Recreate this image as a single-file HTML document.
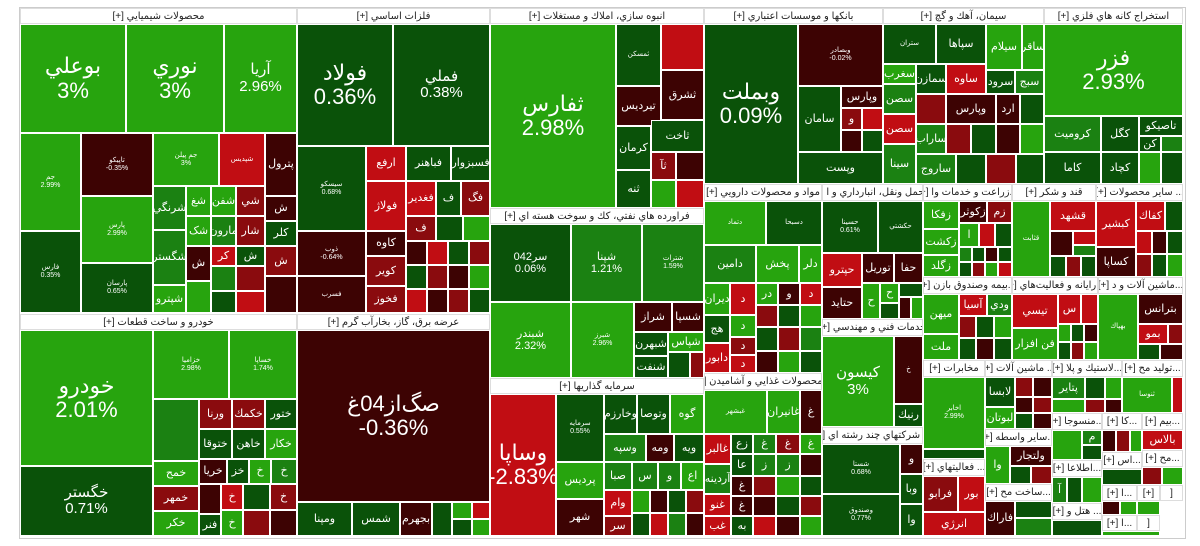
<!DOCTYPE html>
<html><head><meta charset="utf-8"><style>
body{margin:0;width:1200px;height:546px;background:#fff;position:relative;overflow:hidden;font-family:"Liberation Sans","DejaVu Sans",sans-serif}
i,b{position:absolute;box-sizing:border-box;border:1px solid #fff;display:flex;align-items:center;justify-content:center;text-align:center;color:#fff;font-style:normal;font-weight:normal;font-size:11px;line-height:1.1;overflow:hidden;direction:ltr}
b{background:#fff;color:#222;font-size:10px;border:1px solid #ddd;font-weight:normal;white-space:nowrap;direction:rtl}
.a{background:#27a40e}.b{background:#1b8112}.c{background:#0a5209}.r{background:#c10d13}.s{background:#8a0b0e}.t{background:#3d0303}
.L{font-size:22px}.M{font-size:15px}.S{font-size:7px}
</style></head><body>
<div style="position:absolute;left:19px;top:7px;width:1165px;height:530px;border:1px solid #ccc"></div>
<!-- chemicals -->
<b style="left:20px;top:8px;width:277px;height:16px">محصولات شيميايي [+]</b>
<i class="a L" style="left:20px;top:24px;width:106px;height:109px">بوعلي<br>3%</i>
<i class="a L" style="left:126px;top:24px;width:98px;height:109px">نوري<br>3%</i>
<i class="a M" style="left:224px;top:24px;width:73px;height:109px">آريا<br>2.96%</i>
<i class="a S" style="left:20px;top:133px;width:61px;height:98px">جم<br>2.99%</i>
<i class="c S" style="left:20px;top:231px;width:61px;height:82px">فارس<br>0.35%</i>
<i class="t S" style="left:81px;top:133px;width:72px;height:63px">تاپيكو<br>-0.35%</i>
<i class="a S" style="left:81px;top:196px;width:72px;height:67px">پارس<br>2.99%</i>
<i class="c S" style="left:81px;top:263px;width:72px;height:50px">پارسان<br>0.65%</i>
<i class="a S" style="left:153px;top:133px;width:66px;height:53px">جم پيلن<br>3%</i>
<i class="r S" style="left:219px;top:133px;width:46px;height:53px">شپديس</i>
<i class="t" style="left:265px;top:133px;width:32px;height:63px">پترول</i>
<i class="b" style="left:153px;top:186px;width:33px;height:44px">شرنگي</i>
<i class="b" style="left:153px;top:230px;width:33px;height:55px">شگستر</i>
<i class="a" style="left:153px;top:285px;width:33px;height:28px">شپترو</i>
<i class="a" style="left:186px;top:186px;width:25px;height:30px">شغ</i>
<i class="a" style="left:211px;top:186px;width:25px;height:30px">شفن</i>
<i class="s" style="left:236px;top:186px;width:29px;height:30px">شي</i>
<i class="t" style="left:265px;top:196px;width:32px;height:25px">ش</i>
<i class="a" style="left:186px;top:216px;width:25px;height:30px">شک</i>
<i class="b" style="left:211px;top:216px;width:25px;height:30px">مارون</i>
<i class="s" style="left:236px;top:216px;width:29px;height:30px">شار</i>
<i class="c" style="left:265px;top:221px;width:32px;height:25px">كلر</i>
<i class="t" style="left:186px;top:246px;width:25px;height:35px">ش</i>
<i class="r" style="left:211px;top:246px;width:25px;height:20px">كر</i>
<i class="c" style="left:236px;top:246px;width:29px;height:20px">ش</i>
<i class="s" style="left:265px;top:246px;width:32px;height:30px">ش</i>
<i class="b" style="left:211px;top:266px;width:25px;height:25px"></i>
<i class="s" style="left:236px;top:266px;width:29px;height:25px"></i>
<i class="a" style="left:186px;top:281px;width:25px;height:32px"></i>
<i class="c" style="left:211px;top:291px;width:25px;height:22px"></i>
<i class="r" style="left:236px;top:291px;width:29px;height:22px"></i>
<i class="t" style="left:265px;top:276px;width:32px;height:37px"></i>
<!-- auto -->
<b style="left:20px;top:314px;width:277px;height:16px">خودرو و ساخت قطعات [+]</b>
<i class="a L" style="left:20px;top:330px;width:133px;height:136px">خودرو<br>2.01%</i>
<i class="c M" style="left:20px;top:466px;width:133px;height:70px">خگستر<br>0.71%</i>
<i class="a S" style="left:153px;top:330px;width:76px;height:69px">خزاميا<br>2.98%</i>
<i class="a S" style="left:229px;top:330px;width:68px;height:69px">خساپا<br>1.74%</i>
<i class="b" style="left:153px;top:399px;width:46px;height:62px"></i>
<i class="s" style="left:199px;top:399px;width:33px;height:30px">ورنا</i>
<i class="s" style="left:232px;top:399px;width:33px;height:30px">خكمك</i>
<i class="c" style="left:265px;top:399px;width:32px;height:30px">ختور</i>
<i class="c" style="left:199px;top:429px;width:33px;height:30px">ختوقا</i>
<i class="c" style="left:232px;top:429px;width:33px;height:30px">خاهن</i>
<i class="a" style="left:265px;top:429px;width:32px;height:30px">خكار</i>
<i class="a" style="left:153px;top:461px;width:46px;height:25px">خمح</i>
<i class="t" style="left:199px;top:459px;width:28px;height:25px">خريا</i>
<i class="c" style="left:227px;top:459px;width:22px;height:25px">خز</i>
<i class="a" style="left:249px;top:459px;width:22px;height:25px">خ</i>
<i class="b" style="left:271px;top:459px;width:26px;height:25px">خ</i>
<i class="s" style="left:153px;top:486px;width:46px;height:25px">خمهر</i>
<i class="a" style="left:153px;top:511px;width:46px;height:25px">خكر</i>
<i class="t" style="left:199px;top:484px;width:22px;height:30px"></i>
<i class="r" style="left:221px;top:484px;width:22px;height:26px">خ</i>
<i class="c" style="left:243px;top:484px;width:27px;height:26px"></i>
<i class="s" style="left:270px;top:484px;width:27px;height:26px">خ</i>
<i class="c" style="left:199px;top:514px;width:22px;height:22px">فنر</i>
<i class="a" style="left:221px;top:510px;width:22px;height:26px">خ</i>
<i class="s" style="left:243px;top:510px;width:27px;height:26px"></i>
<i class="t" style="left:270px;top:510px;width:27px;height:26px"></i>
<!-- metals -->
<b style="left:297px;top:8px;width:193px;height:16px">فلزات اساسي [+]</b>
<i class="c L" style="left:297px;top:24px;width:96px;height:122px">فولاد<br>0.36%</i>
<i class="c M" style="left:393px;top:24px;width:97px;height:122px">فملي<br>0.38%</i>
<i class="c S" style="left:297px;top:146px;width:69px;height:85px">سيسكو<br>0.68%</i>
<i class="t S" style="left:297px;top:231px;width:69px;height:45px">ذوب<br>-0.64%</i>
<i class="t S" style="left:297px;top:276px;width:69px;height:37px">فسرب</i>
<i class="r" style="left:366px;top:146px;width:40px;height:35px">ارفع</i>
<i class="c" style="left:406px;top:146px;width:45px;height:35px">فباهنر</i>
<i class="c" style="left:451px;top:146px;width:39px;height:35px">فسبزوار</i>
<i class="r" style="left:366px;top:181px;width:40px;height:50px">فولاژ</i>
<i class="r" style="left:406px;top:181px;width:30px;height:35px">فغدير</i>
<i class="c" style="left:436px;top:181px;width:25px;height:35px">ف</i>
<i class="s" style="left:461px;top:181px;width:29px;height:35px">فگ</i>
<i class="t" style="left:366px;top:231px;width:40px;height:25px">كاوه</i>
<i class="s" style="left:366px;top:256px;width:40px;height:30px">كوير</i>
<i class="s" style="left:366px;top:286px;width:40px;height:27px">فخوز</i>
<i class="s" style="left:406px;top:216px;width:30px;height:25px">ف</i>
<i class="c" style="left:436px;top:216px;width:27px;height:25px"></i>
<i class="a" style="left:463px;top:216px;width:27px;height:25px"></i>
<i class="t" style="left:406px;top:241px;width:21px;height:24px"></i>
<i class="r" style="left:427px;top:241px;width:21px;height:24px"></i>
<i class="c" style="left:448px;top:241px;width:21px;height:24px"></i>
<i class="s" style="left:469px;top:241px;width:21px;height:24px"></i>
<i class="c" style="left:406px;top:265px;width:21px;height:24px"></i>
<i class="s" style="left:427px;top:265px;width:21px;height:24px"></i>
<i class="t" style="left:448px;top:265px;width:21px;height:24px"></i>
<i class="a" style="left:469px;top:265px;width:21px;height:24px"></i>
<i class="r" style="left:406px;top:289px;width:21px;height:24px"></i>
<i class="t" style="left:427px;top:289px;width:21px;height:24px"></i>
<i class="s" style="left:448px;top:289px;width:21px;height:24px"></i>
<i class="c" style="left:469px;top:289px;width:21px;height:24px"></i>
<!-- electricity -->
<b style="left:297px;top:314px;width:193px;height:16px">عرضه برق، گاز، بخارآب گرم [+]</b>
<i class="t L" style="left:297px;top:330px;width:193px;height:172px">صگﺍﺯ04غ<br>-0.36%</i>
<i class="c" style="left:297px;top:502px;width:55px;height:34px">ومپنا</i>
<i class="c" style="left:352px;top:502px;width:48px;height:34px">شمس</i>
<i class="t" style="left:400px;top:502px;width:32px;height:34px">بجهرم</i>
<i class="c" style="left:432px;top:502px;width:20px;height:34px"></i>
<i class="a" style="left:452px;top:502px;width:20px;height:17px"></i>
<i class="r" style="left:472px;top:502px;width:18px;height:17px"></i>
<i class="c" style="left:452px;top:519px;width:20px;height:17px"></i>
<i class="a" style="left:472px;top:519px;width:18px;height:17px"></i>
<!-- building -->
<b style="left:490px;top:8px;width:214px;height:16px">انبوه سازي، املاك و مستغلات [+]</b>
<i class="a L" style="left:490px;top:24px;width:126px;height:184px">ثفارس<br>2.98%</i>
<i class="c S" style="left:616px;top:24px;width:45px;height:62px">ثمسكن</i>
<i class="r" style="left:661px;top:24px;width:43px;height:46px"></i>
<i class="t" style="left:661px;top:70px;width:43px;height:50px">ثشرق</i>
<i class="t" style="left:616px;top:86px;width:45px;height:40px">تيرديس</i>
<i class="c" style="left:616px;top:126px;width:35px;height:44px">كرمان</i>
<i class="c" style="left:651px;top:120px;width:53px;height:32px">ثاخت</i>
<i class="s" style="left:651px;top:152px;width:25px;height:28px">ثآ</i>
<i class="t" style="left:676px;top:152px;width:28px;height:28px"></i>
<i class="c" style="left:616px;top:170px;width:35px;height:38px">ثنه</i>
<i class="a" style="left:651px;top:180px;width:25px;height:28px"></i>
<i class="r" style="left:676px;top:180px;width:28px;height:28px"></i>
<!-- oil -->
<b style="left:490px;top:208px;width:214px;height:16px">فراورده هاي نفتي، كك و سوخت هسته اي [+]</b>
<i class="c" style="left:490px;top:224px;width:81px;height:78px">042سر<br>0.06%</i>
<i class="b" style="left:571px;top:224px;width:71px;height:78px">شپنا<br>1.21%</i>
<i class="b S" style="left:642px;top:224px;width:62px;height:78px">شترات<br>1.59%</i>
<i class="a" style="left:490px;top:302px;width:81px;height:76px">شبندر<br>2.32%</i>
<i class="a S" style="left:571px;top:302px;width:63px;height:76px">شبرز<br>2.96%</i>
<i class="t" style="left:634px;top:302px;width:38px;height:30px">شراز</i>
<i class="t" style="left:672px;top:302px;width:32px;height:30px">شسپا</i>
<i class="c" style="left:634px;top:332px;width:34px;height:24px">شبهرن</i>
<i class="a" style="left:668px;top:332px;width:36px;height:20px">شپاس</i>
<i class="c" style="left:634px;top:356px;width:34px;height:22px">شنفت</i>
<i class="c" style="left:668px;top:352px;width:22px;height:26px"></i>
<i class="s" style="left:690px;top:352px;width:14px;height:26px"></i>
<!-- investments -->
<b style="left:490px;top:378px;width:214px;height:16px">سرمايه گذاريها [+]</b>
<i class="r L" style="left:490px;top:394px;width:66px;height:142px">وساپا<br>-2.83%</i>
<i class="c S" style="left:556px;top:394px;width:48px;height:68px">سرمایه<br>0.55%</i>
<i class="c" style="left:604px;top:394px;width:33px;height:40px">وخارزم</i>
<i class="c" style="left:637px;top:394px;width:33px;height:40px">وتوصا</i>
<i class="a" style="left:670px;top:394px;width:34px;height:40px">گوه</i>
<i class="b" style="left:604px;top:434px;width:42px;height:28px">وسپه</i>
<i class="t" style="left:646px;top:434px;width:28px;height:28px">ومه</i>
<i class="c" style="left:674px;top:434px;width:30px;height:28px">ويه</i>
<i class="a" style="left:556px;top:462px;width:48px;height:37px">پرديس</i>
<i class="b" style="left:604px;top:462px;width:28px;height:28px">صبا</i>
<i class="b" style="left:632px;top:462px;width:26px;height:28px">س</i>
<i class="b" style="left:658px;top:462px;width:23px;height:28px">و</i>
<i class="a" style="left:681px;top:462px;width:23px;height:28px">اع</i>
<i class="t" style="left:556px;top:499px;width:48px;height:37px">شهر</i>
<i class="r" style="left:604px;top:490px;width:28px;height:26px">وام</i>
<i class="s" style="left:604px;top:516px;width:28px;height:20px">سر</i>
<i class="a" style="left:632px;top:490px;width:18px;height:23px"></i>
<i class="t" style="left:650px;top:490px;width:18px;height:23px"></i>
<i class="c" style="left:668px;top:490px;width:18px;height:23px"></i>
<i class="s" style="left:686px;top:490px;width:18px;height:23px"></i>
<i class="c" style="left:632px;top:513px;width:18px;height:23px"></i>
<i class="r" style="left:650px;top:513px;width:18px;height:23px"></i>
<i class="b" style="left:668px;top:513px;width:18px;height:23px"></i>
<i class="t" style="left:686px;top:513px;width:18px;height:23px"></i>
<!-- banks -->
<b style="left:704px;top:8px;width:179px;height:16px">بانكها و موسسات اعتباري [+]</b>
<i class="c L" style="left:704px;top:24px;width:94px;height:160px">وبملت<br>0.09%</i>
<i class="t S" style="left:798px;top:24px;width:85px;height:62px">وبصادر<br>-0.02%</i>
<i class="c" style="left:798px;top:86px;width:43px;height:66px">سامان</i>
<i class="t" style="left:841px;top:86px;width:42px;height:22px">وپارس</i>
<i class="s" style="left:841px;top:108px;width:21px;height:22px">و</i>
<i class="r" style="left:862px;top:108px;width:21px;height:22px"></i>
<i class="t" style="left:841px;top:130px;width:21px;height:22px"></i>
<i class="c" style="left:862px;top:130px;width:21px;height:22px"></i>
<i class="c" style="left:798px;top:152px;width:85px;height:32px">وپست</i>
<!-- cement -->
<b style="left:883px;top:8px;width:161px;height:16px">سيمان، آهك و گچ [+]</b>
<i class="c S" style="left:883px;top:24px;width:53px;height:40px">ستران</i>
<i class="c" style="left:936px;top:24px;width:50px;height:40px">سپاها</i>
<i class="a" style="left:986px;top:24px;width:36px;height:46px">سيلام</i>
<i class="a" style="left:1022px;top:24px;width:22px;height:46px">ساقر</i>
<i class="a" style="left:883px;top:64px;width:33px;height:20px">سغرب</i>
<i class="c" style="left:916px;top:64px;width:30px;height:30px">سمازن</i>
<i class="r" style="left:946px;top:64px;width:40px;height:30px">ساوه</i>
<i class="c" style="left:986px;top:70px;width:29px;height:24px">سرود</i>
<i class="b" style="left:1015px;top:70px;width:29px;height:24px">سبج</i>
<i class="b" style="left:883px;top:84px;width:33px;height:30px">سصن</i>
<i class="s" style="left:916px;top:94px;width:30px;height:30px"></i>
<i class="t" style="left:946px;top:94px;width:50px;height:30px">وپارس</i>
<i class="t" style="left:996px;top:94px;width:24px;height:30px">ارد</i>
<i class="c" style="left:1020px;top:94px;width:24px;height:30px"></i>
<i class="r" style="left:883px;top:114px;width:33px;height:30px">سصن</i>
<i class="b" style="left:916px;top:124px;width:30px;height:30px">ساراب</i>
<i class="s" style="left:946px;top:124px;width:25px;height:30px"></i>
<i class="c" style="left:971px;top:124px;width:25px;height:30px"></i>
<i class="t" style="left:996px;top:124px;width:24px;height:30px"></i>
<i class="a" style="left:1020px;top:124px;width:24px;height:30px"></i>
<i class="b" style="left:883px;top:144px;width:33px;height:40px">سينا</i>
<i class="b" style="left:916px;top:154px;width:40px;height:30px">ساروج</i>
<i class="c" style="left:956px;top:154px;width:30px;height:30px"></i>
<i class="s" style="left:986px;top:154px;width:30px;height:30px"></i>
<i class="c" style="left:1016px;top:154px;width:28px;height:30px"></i>
<!-- mining -->
<b style="left:1044px;top:8px;width:139px;height:16px">استخراج كانه هاي فلزي [+]</b>
<i class="a L" style="left:1044px;top:24px;width:139px;height:92px">فزر<br>2.93%</i>
<i class="b" style="left:1044px;top:116px;width:57px;height:36px">كروميت</i>
<i class="c" style="left:1044px;top:152px;width:57px;height:32px">كاما</i>
<i class="c" style="left:1101px;top:116px;width:38px;height:36px">كگل</i>
<i class="c" style="left:1139px;top:116px;width:44px;height:20px">تاصيكو</i>
<i class="c" style="left:1139px;top:136px;width:22px;height:16px">كن</i>
<i class="b" style="left:1161px;top:136px;width:22px;height:16px"></i>
<i class="c" style="left:1101px;top:152px;width:38px;height:32px">كچاد</i>
<i class="a" style="left:1139px;top:152px;width:22px;height:32px"></i>
<i class="c" style="left:1161px;top:152px;width:22px;height:32px"></i>
<!-- pharma -->
<b style="left:704px;top:184px;width:118px;height:17px">مواد و محصولات دارويي [+]</b>
<i class="a S" style="left:704px;top:201px;width:62px;height:44px">دتماد</i>
<i class="c S" style="left:766px;top:201px;width:56px;height:44px">دسبحا</i>
<i class="b" style="left:704px;top:245px;width:52px;height:38px">دامين</i>
<i class="a" style="left:756px;top:245px;width:43px;height:38px">پخش</i>
<i class="a" style="left:799px;top:245px;width:23px;height:38px">دلر</i>
<i class="a" style="left:704px;top:283px;width:26px;height:32px">ديران</i>
<i class="r" style="left:730px;top:283px;width:26px;height:32px">د</i>
<i class="a" style="left:756px;top:283px;width:22px;height:22px">در</i>
<i class="t" style="left:778px;top:283px;width:22px;height:22px">و</i>
<i class="r" style="left:800px;top:283px;width:22px;height:22px">د</i>
<i class="c" style="left:704px;top:315px;width:26px;height:28px">هج</i>
<i class="a" style="left:730px;top:315px;width:26px;height:22px">د</i>
<i class="r" style="left:704px;top:343px;width:26px;height:30px">دابور</i>
<i class="s" style="left:730px;top:337px;width:26px;height:18px">د</i>
<i class="r" style="left:730px;top:355px;width:26px;height:18px">د</i>
<i class="s" style="left:756px;top:305px;width:22px;height:22px"></i>
<i class="c" style="left:778px;top:305px;width:22px;height:22px"></i>
<i class="a" style="left:800px;top:305px;width:22px;height:22px"></i>
<i class="c" style="left:756px;top:327px;width:22px;height:24px"></i>
<i class="s" style="left:778px;top:327px;width:22px;height:24px"></i>
<i class="b" style="left:800px;top:327px;width:22px;height:24px"></i>
<i class="t" style="left:756px;top:351px;width:22px;height:22px"></i>
<i class="a" style="left:778px;top:351px;width:22px;height:22px"></i>
<i class="c" style="left:800px;top:351px;width:22px;height:22px"></i>
<!-- food -->
<b style="left:704px;top:373px;width:118px;height:17px">...محصولات غذايي و آشاميدن [+]</b>
<i class="a S" style="left:704px;top:390px;width:63px;height:44px">غبشهر</i>
<i class="a" style="left:767px;top:390px;width:33px;height:44px">غانيران</i>
<i class="t" style="left:800px;top:390px;width:22px;height:44px">غ</i>
<i class="r" style="left:704px;top:434px;width:27px;height:30px">غالبر</i>
<i class="c" style="left:731px;top:434px;width:22px;height:20px">زع</i>
<i class="b" style="left:753px;top:434px;width:23px;height:20px">غ</i>
<i class="s" style="left:776px;top:434px;width:24px;height:20px">غ</i>
<i class="a" style="left:800px;top:434px;width:22px;height:20px">غ</i>
<i class="b" style="left:704px;top:464px;width:27px;height:30px">آردينه</i>
<i class="c" style="left:731px;top:454px;width:22px;height:22px">عا</i>
<i class="b" style="left:753px;top:454px;width:23px;height:22px">ز</i>
<i class="b" style="left:776px;top:454px;width:24px;height:22px">ز</i>
<i class="t" style="left:800px;top:454px;width:22px;height:22px"></i>
<i class="r" style="left:704px;top:494px;width:27px;height:22px">غنو</i>
<i class="r" style="left:704px;top:516px;width:27px;height:20px">غب</i>
<i class="t" style="left:731px;top:476px;width:22px;height:20px">غ</i>
<i class="t" style="left:731px;top:496px;width:22px;height:20px">غ</i>
<i class="c" style="left:731px;top:516px;width:22px;height:20px">به</i>
<i class="s" style="left:753px;top:476px;width:23px;height:20px"></i>
<i class="a" style="left:776px;top:476px;width:24px;height:20px"></i>
<i class="c" style="left:800px;top:476px;width:22px;height:20px"></i>
<i class="t" style="left:753px;top:496px;width:23px;height:20px"></i>
<i class="c" style="left:776px;top:496px;width:24px;height:20px"></i>
<i class="s" style="left:800px;top:496px;width:22px;height:20px"></i>
<i class="r" style="left:753px;top:516px;width:23px;height:20px"></i>
<i class="t" style="left:776px;top:516px;width:24px;height:20px"></i>
<i class="a" style="left:800px;top:516px;width:22px;height:20px"></i>
<!-- transport -->
<b style="left:822px;top:184px;width:101px;height:17px">...حمل ونقل، انبارداري و ا [+]</b>
<i class="c S" style="left:822px;top:201px;width:56px;height:52px">حسينا<br>0.61%</i>
<i class="c S" style="left:878px;top:201px;width:45px;height:52px">حكشتي</i>
<i class="r" style="left:822px;top:253px;width:40px;height:34px">حپترو</i>
<i class="t" style="left:862px;top:253px;width:32px;height:30px">توريل</i>
<i class="t" style="left:894px;top:253px;width:29px;height:30px">حفا</i>
<i class="t" style="left:822px;top:287px;width:40px;height:32px">حتايد</i>
<i class="a" style="left:862px;top:283px;width:18px;height:36px">ح</i>
<i class="a" style="left:880px;top:283px;width:19px;height:20px">ح</i>
<i class="c" style="left:899px;top:283px;width:24px;height:14px"></i>
<i class="t" style="left:899px;top:297px;width:12px;height:22px"></i>
<i class="a" style="left:911px;top:297px;width:12px;height:22px"></i>
<i class="c" style="left:880px;top:303px;width:19px;height:16px"></i>
<b style="left:822px;top:319px;width:101px;height:17px">خدمات فني و مهندسي [+]</b>
<i class="a M" style="left:822px;top:336px;width:72px;height:91px">كيسون<br>3%</i>
<i class="t S" style="left:894px;top:336px;width:29px;height:68px">خ</i>
<i class="c" style="left:894px;top:404px;width:29px;height:23px">رنيك</i>
<b style="left:822px;top:427px;width:101px;height:17px">... شركتهاي چند رشته اي [+]</b>
<i class="c S" style="left:822px;top:444px;width:78px;height:50px">شستا<br>0.68%</i>
<i class="c S" style="left:822px;top:494px;width:78px;height:42px">وصندوق<br>0.77%</i>
<i class="t" style="left:900px;top:444px;width:23px;height:30px">و</i>
<i class="c" style="left:900px;top:474px;width:23px;height:30px">وبا</i>
<i class="c" style="left:900px;top:504px;width:23px;height:32px">وا</i>
<!-- agriculture -->
<b style="left:923px;top:184px;width:89px;height:17px">...زراعت و خدمات وا [+]</b>
<i class="a" style="left:923px;top:201px;width:36px;height:28px">زفكا</i>
<i class="t" style="left:959px;top:201px;width:28px;height:22px">زكوثر</i>
<i class="s" style="left:987px;top:201px;width:25px;height:22px">زم</i>
<i class="a" style="left:923px;top:229px;width:36px;height:26px">زكشت</i>
<i class="a" style="left:923px;top:255px;width:36px;height:22px">زگلد</i>
<i class="a" style="left:959px;top:223px;width:20px;height:24px">ا</i>
<i class="r" style="left:979px;top:223px;width:16px;height:24px"></i>
<i class="c" style="left:995px;top:223px;width:17px;height:24px"></i>
<i class="b" style="left:959px;top:247px;width:13px;height:15px"></i><i class="c" style="left:972px;top:247px;width:13px;height:15px"></i><i class="t" style="left:985px;top:247px;width:13px;height:15px"></i><i class="c" style="left:998px;top:247px;width:14px;height:15px"></i>
<i class="c" style="left:959px;top:262px;width:13px;height:15px"></i><i class="s" style="left:972px;top:262px;width:13px;height:15px"></i><i class="a" style="left:985px;top:262px;width:13px;height:15px"></i><i class="r" style="left:998px;top:262px;width:14px;height:15px"></i>
<b style="left:923px;top:277px;width:89px;height:17px">...بيمه وصندوق بازن [+]</b>
<i class="a" style="left:923px;top:294px;width:36px;height:40px">ميهن</i>
<i class="r" style="left:959px;top:294px;width:28px;height:22px">آسيا</i>
<i class="b" style="left:987px;top:294px;width:25px;height:22px">ودي</i>
<i class="a" style="left:923px;top:334px;width:36px;height:26px">ملت</i>
<i class="s" style="left:959px;top:316px;width:17px;height:22px"></i><i class="c" style="left:976px;top:316px;width:18px;height:22px"></i><i class="a" style="left:994px;top:316px;width:18px;height:22px"></i>
<i class="c" style="left:959px;top:338px;width:17px;height:22px"></i><i class="t" style="left:976px;top:338px;width:18px;height:22px"></i><i class="c" style="left:994px;top:338px;width:18px;height:22px"></i>
<b style="left:923px;top:360px;width:62px;height:17px">مخابرات [+]</b>
<i class="a S" style="left:923px;top:377px;width:62px;height:72px">اخابر<br>2.99%</i>
<i class="c" style="left:923px;top:449px;width:62px;height:10px"></i>
<b style="left:923px;top:459px;width:62px;height:17px">... فعاليتهاي [+]</b>
<i class="s" style="left:923px;top:476px;width:35px;height:36px">فرابو</i>
<i class="r" style="left:958px;top:476px;width:27px;height:36px">بور</i>
<i class="r" style="left:923px;top:512px;width:62px;height:24px">انرژي</i>
<!-- machines etc column 985-1052 -->
<b style="left:985px;top:360px;width:67px;height:17px">... ماشين آلات [+]</b>
<i class="c" style="left:985px;top:377px;width:30px;height:30px">لابسا</i>
<i class="s" style="left:1015px;top:377px;width:18px;height:20px"></i><i class="t" style="left:1033px;top:377px;width:19px;height:20px"></i>
<i class="a" style="left:985px;top:407px;width:30px;height:22px">لبوتان</i>
<i class="t" style="left:1015px;top:397px;width:18px;height:16px"></i><i class="s" style="left:1033px;top:397px;width:19px;height:16px"></i>
<i class="c" style="left:1015px;top:413px;width:18px;height:16px"></i><i class="t" style="left:1033px;top:413px;width:19px;height:16px"></i>
<b style="left:985px;top:429px;width:67px;height:17px">...ساير واسطه [+]</b>
<i class="a" style="left:985px;top:446px;width:25px;height:38px">وا</i>
<i class="t" style="left:1010px;top:446px;width:42px;height:20px">ولتجار</i>
<i class="c" style="left:1010px;top:466px;width:21px;height:18px"></i><i class="s" style="left:1031px;top:466px;width:21px;height:18px"></i>
<b style="left:985px;top:484px;width:67px;height:17px">...ساخت مح [+]</b>
<i class="t" style="left:985px;top:501px;width:30px;height:35px">فاراك</i>
<i class="c" style="left:1015px;top:501px;width:37px;height:17px"></i><i class="b" style="left:1015px;top:518px;width:37px;height:18px"></i>
<!-- sugar -->
<b style="left:1012px;top:184px;width:84px;height:17px">قند و شكر [+]</b>
<i class="a S" style="left:1012px;top:201px;width:38px;height:76px">قثابت</i>
<i class="r" style="left:1050px;top:201px;width:46px;height:30px">قشهد</i>
<i class="t" style="left:1050px;top:231px;width:23px;height:25px"></i><i class="r" style="left:1073px;top:231px;width:23px;height:14px"></i><i class="b" style="left:1073px;top:245px;width:23px;height:11px"></i>
<i class="c" style="left:1050px;top:256px;width:16px;height:21px"></i><i class="s" style="left:1066px;top:256px;width:15px;height:21px"></i><i class="c" style="left:1081px;top:256px;width:15px;height:21px"></i>
<b style="left:1012px;top:277px;width:86px;height:17px">...رايانه و فعاليت‌هاي [+]</b>
<i class="r" style="left:1012px;top:294px;width:46px;height:34px">تيسي</i>
<i class="r" style="left:1058px;top:294px;width:23px;height:30px">س</i>
<i class="r" style="left:1081px;top:294px;width:17px;height:30px"></i>
<i class="a" style="left:1012px;top:328px;width:46px;height:32px">فن افزار</i>
<i class="a" style="left:1058px;top:324px;width:13px;height:18px"></i><i class="c" style="left:1071px;top:324px;width:13px;height:18px"></i><i class="t" style="left:1084px;top:324px;width:14px;height:18px"></i>
<i class="c" style="left:1058px;top:342px;width:13px;height:18px"></i><i class="s" style="left:1071px;top:342px;width:13px;height:18px"></i><i class="a" style="left:1084px;top:342px;width:14px;height:18px"></i>
<b style="left:1052px;top:360px;width:70px;height:17px">...لاستيك و پلا [+]</b>
<i class="b" style="left:1052px;top:377px;width:33px;height:22px">پتاير</i>
<i class="c" style="left:1085px;top:377px;width:20px;height:22px"></i><i class="a" style="left:1105px;top:377px;width:17px;height:22px"></i>
<i class="a" style="left:1052px;top:399px;width:33px;height:14px"></i><i class="s" style="left:1085px;top:399px;width:20px;height:14px"></i><i class="t" style="left:1105px;top:399px;width:17px;height:14px"></i>
<b style="left:1052px;top:413px;width:50px;height:17px">...منسوجا [+]</b>
<i class="a" style="left:1052px;top:430px;width:30px;height:30px"></i><i class="b" style="left:1082px;top:430px;width:20px;height:15px">م</i><i class="c" style="left:1082px;top:445px;width:20px;height:15px"></i>
<b style="left:1052px;top:460px;width:50px;height:17px">...اطلاعا [+]</b>
<i class="b" style="left:1052px;top:477px;width:15px;height:26px">آ</i><i class="c" style="left:1067px;top:477px;width:15px;height:26px"></i><i class="a" style="left:1082px;top:477px;width:20px;height:26px"></i>
<b style="left:1052px;top:503px;width:50px;height:17px">... هتل و [+]</b>
<i class="c" style="left:1052px;top:520px;width:50px;height:16px"></i>
<!-- other products -->
<b style="left:1096px;top:184px;width:87px;height:17px">... ساير محصولات [+]</b>
<i class="r" style="left:1096px;top:201px;width:40px;height:46px">كبشير</i>
<i class="r" style="left:1136px;top:201px;width:29px;height:30px">كفاك</i>
<i class="c" style="left:1165px;top:201px;width:18px;height:30px"></i>
<i class="t" style="left:1096px;top:247px;width:40px;height:30px">كساپا</i>
<i class="r" style="left:1136px;top:231px;width:16px;height:23px"></i><i class="t" style="left:1152px;top:231px;width:15px;height:23px"></i><i class="c" style="left:1167px;top:231px;width:16px;height:23px"></i>
<i class="s" style="left:1136px;top:254px;width:16px;height:23px"></i><i class="c" style="left:1152px;top:254px;width:15px;height:23px"></i><i class="a" style="left:1167px;top:254px;width:16px;height:23px"></i>
<b style="left:1098px;top:277px;width:85px;height:17px">...ماشين آلات و د [+]</b>
<i class="a S" style="left:1098px;top:294px;width:40px;height:66px">بهپاك</i>
<i class="t" style="left:1138px;top:294px;width:45px;height:30px">بترانس</i>
<i class="r" style="left:1138px;top:324px;width:30px;height:20px">بمو</i>
<i class="s" style="left:1168px;top:324px;width:15px;height:20px"></i>
<i class="c" style="left:1138px;top:344px;width:22px;height:16px"></i><i class="t" style="left:1160px;top:344px;width:23px;height:16px"></i>
<b style="left:1122px;top:360px;width:61px;height:17px">...توليد مح [+]</b>
<i class="a S" style="left:1122px;top:377px;width:50px;height:36px">ثنوسا</i>
<i class="r" style="left:1172px;top:377px;width:11px;height:36px"></i>
<b style="left:1102px;top:413px;width:40px;height:17px">...كا [+]</b>
<b style="left:1142px;top:413px;width:41px;height:17px">...بيم [+]</b>
<i class="t" style="left:1102px;top:430px;width:14px;height:22px"></i><i class="s" style="left:1116px;top:430px;width:14px;height:22px"></i><i class="a" style="left:1130px;top:430px;width:12px;height:22px"></i>
<i class="r" style="left:1142px;top:430px;width:41px;height:20px">بالاس</i>
<b style="left:1102px;top:452px;width:40px;height:17px">...اس [+]</b>
<b style="left:1142px;top:450px;width:41px;height:17px">...مح [+]</b>
<i class="c" style="left:1102px;top:469px;width:40px;height:16px"></i>
<i class="s" style="left:1142px;top:467px;width:20px;height:18px"></i><i class="a" style="left:1162px;top:467px;width:21px;height:18px"></i>
<b style="left:1102px;top:485px;width:35px;height:16px">...ا [+]</b>
<b style="left:1137px;top:485px;width:23px;height:16px">[+]</b>
<b style="left:1160px;top:485px;width:23px;height:16px">[</b>
<i class="t" style="left:1102px;top:501px;width:18px;height:14px"></i><i class="a" style="left:1120px;top:501px;width:17px;height:14px"></i>
<i class="a" style="left:1137px;top:501px;width:23px;height:14px"></i>
<b style="left:1102px;top:515px;width:35px;height:16px">...ا [+]</b>
<b style="left:1137px;top:515px;width:23px;height:16px">[</b>
<i class="a" style="left:1102px;top:531px;width:58px;height:5px"></i>
</body></html>
